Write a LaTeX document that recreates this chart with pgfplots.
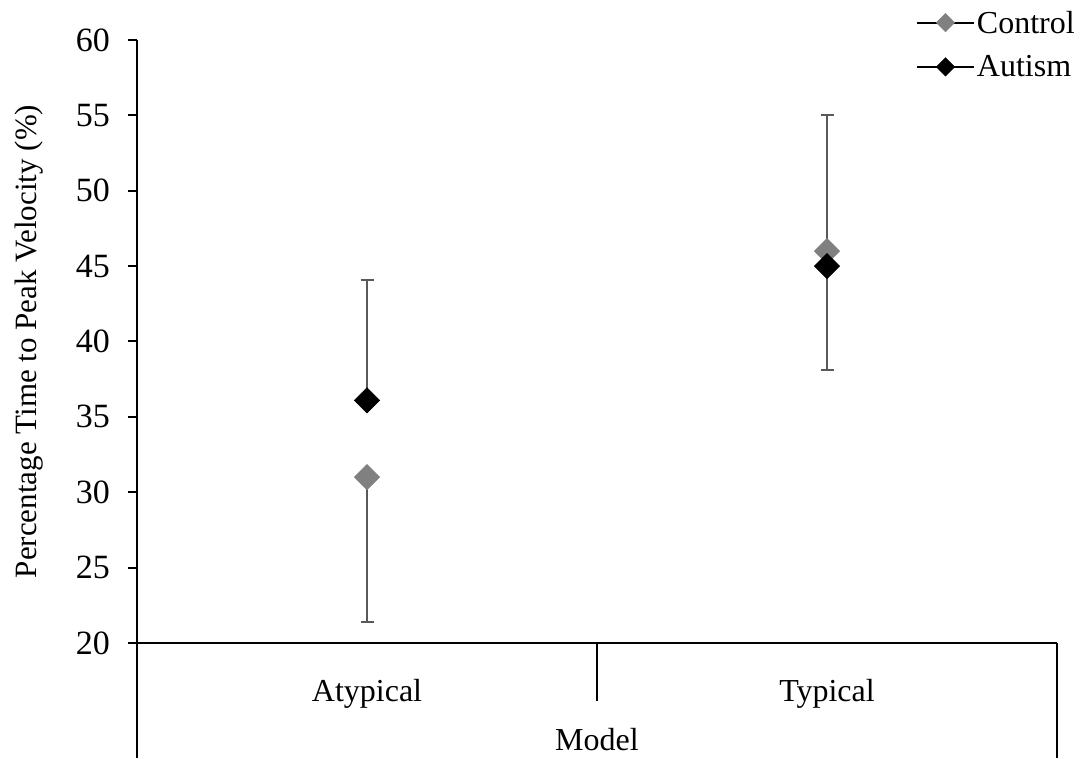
\documentclass[border=0pt]{standalone}
\usepackage{fontspec}
\setmainfont{Liberation Serif}
\usepackage{pgfplots}
\pgfplotsset{compat=1.18}
\definecolor{ctrl}{RGB}{128,128,128}
\definecolor{ebar}{RGB}{89,89,89}
\pgfplotsset{
  myleg/.style={legend image code/.code={
    \draw[black, line width=2pt] (0pt,0pt) -- (57pt,0pt);
    \draw[##1, mark size=6.5pt] plot coordinates {(28.5pt,0pt)};
  }},
  ebars/.style={error bars/.cd, y explicit, y dir=#1,
    error bar style={line width=2pt, ebar},
    error mark options={line width=2pt, ebar, mark size=6.5pt, rotate=90}, /pgfplots/.cd},
}
\begin{document}
\begin{tikzpicture}[x=1pt,y=1pt]
\useasboundingbox (0,0) rectangle (1089,758);
\begin{axis}[
  at={(137pt,115pt)}, anchor=south west,
  scale only axis, width=920pt, height=603pt,
  xmin=0, xmax=2, ymin=20, ymax=60,
  axis x line*=bottom, axis y line*=left,
  axis line style={line width=2pt, black},
  xtick={0.5,1.5}, xticklabels={Atypical,Typical},
  xtick style={draw=none},
  ytick={20,25,...,60},
  ytick style={line width=2pt, black},
  tick align=outside, major tick length=9pt,
  tick label style={font=\fontsize{32}{38}\selectfont},
  yticklabel style={anchor=east, inner sep=0pt, xshift=-18pt, font=\fontsize{34}{40}\selectfont},
  /pgf/number format/assume math mode=true,
  xticklabel style={anchor=base, inner sep=0pt, yshift=-49pt},
  xlabel={Model},
  xlabel style={at={(axis description cs:0.5,-0.1791)}, anchor=base, inner sep=0pt, font=\fontsize{32}{38}\selectfont},
  ylabel={Percentage Time to Peak Velocity (\%)},
  ylabel style={at={(axis description cs:-0.1087,0.5)}, anchor=base, inner sep=0pt, font=\fontsize{31}{37}\selectfont},
  legend style={at={(axis description cs:1.0217,1.052)}, anchor=north east, draw=none, fill=none,
    inner sep=0pt, font=\fontsize{32}{38}\selectfont, row sep=17pt, cells={anchor=west}},
  clip=false,
]
\addplot[only marks, mark=square*, mark size=9pt, mark options={rotate=45, fill=ctrl, draw=ctrl}, myleg, ebars=minus]
  coordinates {(0.5,31.0) -= (0,9.6)};
\addlegendentry{Control}
\addplot[only marks, mark=square*, mark size=9pt, mark options={rotate=45, fill=black, draw=black}, myleg, ebars=plus]
  coordinates {(0.5,36.1) += (0,8.0)};
\addlegendentry{Autism}
\addplot[only marks, forget plot, mark=square*, mark size=9pt, mark options={rotate=45, fill=ctrl, draw=ctrl}, ebars=plus]
  coordinates {(1.5,46.0) += (0,9.0)};
\addplot[only marks, forget plot, mark=square*, mark size=9pt, mark options={rotate=45, fill=black, draw=black}, ebars=minus]
  coordinates {(1.5,45.0) -= (0,6.9)};
\draw[line width=2pt] (axis cs:0,20) -- ++(0pt,-115pt);
\draw[line width=2pt] (axis cs:1,20) -- ++(0pt,-58pt);
\draw[line width=2pt] (axis cs:2,20) -- ++(0pt,-115pt);
\end{axis}
\end{tikzpicture}
\end{document}
